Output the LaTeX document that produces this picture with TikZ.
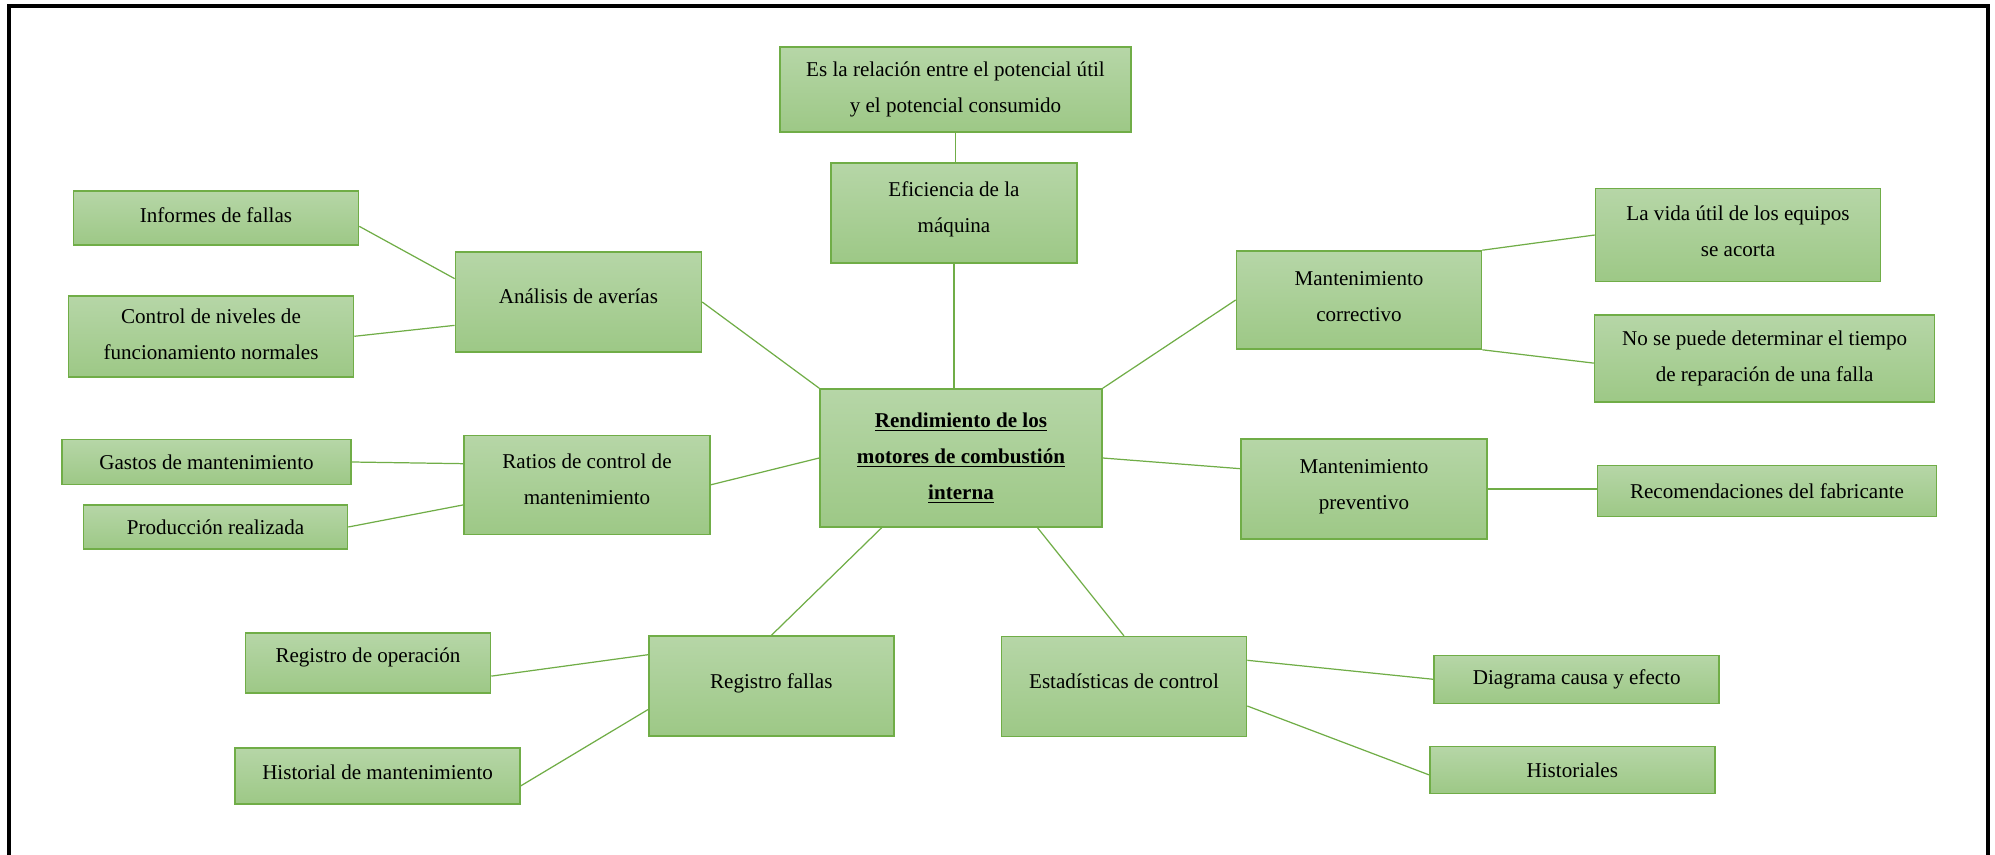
\documentclass[tikz,border=0pt]{standalone}
\usepackage{fontspec}
\setmainfont{Liberation Serif}
\usetikzlibrary{calc,positioning}
\definecolor{boxtop}{RGB}{182,214,167}
\definecolor{boxbot}{RGB}{157,200,134}
\definecolor{boxline}{RGB}{112,173,71}
% raise a line of text inside its box, keeping the box size
\newcommand\upln[2]{\raisebox{#1}[\height][\depth]{#2}}

\begin{document}
\begin{tikzpicture}[x=0.02cm,y=-0.02cm,
  box/.style={draw=boxline,line width=0.9pt,top color=boxtop,bottom color=boxbot,align=center,inner sep=1pt,font=\fontsize{12}{20.5}\selectfont},
  sz/.style 2 args={minimum width=#1*0.02cm,minimum height=#2*0.02cm},
  link/.style={draw=boxline,line width=0.7pt}]
\useasboundingbox (0,0) rectangle (1995,855);
\draw[line width=1.8pt] (9,860)--(9,6)--(1988,6)--(1988,860);
% centre and top branch
\node[box,sz={282}{138}] (c) at (961,458) {\underline{\textbf{Rendimiento de los}}\\\underline{\textbf{motores de combustión}}\\\underline{\textbf{interna}}};
\node[box,sz={351}{85}] (top) at (955.5,89.5) {Es la relación entre el potencial útil\\y el potencial consumido};
\node[box,sz={246}{100}] (efi) at (954,213) {\upln{2.3pt}{Eficiencia de la}\\\upln{2.3pt}{máquina}};
% left side
\node[box,sz={246}{100}] (ana) at (578.4,302) {\upln{3.5pt}{Análisis de averías}};
\node[box,sz={285}{54}] (inf) at (216,218) {\upln{1.4pt}{Informes de fallas}};
\node[box,sz={285}{81}] (ctl) at (211,336.3) {\upln{1pt}{Control de niveles de}\\\upln{1pt}{funcionamiento normales}};
\node[box,sz={246}{99}] (rat) at (587,484.8) {\upln{3.2pt}{Ratios de control de}\\\upln{3.2pt}{mantenimiento}};
\node[box,sz={289}{45}] (gas) at (206.5,462) {Gastos de mantenimiento};
\node[box,sz={264}{44}] (pro) at (215.5,527) {Producción realizada};
% bottom
\node[box,sz={245}{100}] (rf) at (771.3,686.2) {\upln{1.7pt}{Registro fallas}};
\node[box,sz={245}{60}] (rop) at (368,663.2) {\upln{3.5pt}{Registro de operación}};
\node[box,sz={285}{56}] (his) at (377.6,776) {\upln{2pt}{Historial de mantenimiento}};
\node[box,sz={245}{100}] (est) at (1124,686.7) {\upln{3pt}{Estadísticas de control}};
\node[box,sz={285}{48}] (dia) at (1576.7,679.3) {Diagrama causa y efecto};
\node[box,sz={285}{47}] (hst) at (1572.3,770) {Historiales};
% right side
\node[box,sz={245}{98}] (cor) at (1359,300) {\upln{2pt}{Mantenimiento}\\\upln{2pt}{correctivo}};
\node[box,sz={285}{93}] (vid) at (1738,235) {\upln{2pt}{La vida útil de los equipos}\\\upln{2pt}{se acorta}};
\node[box,sz={340}{87}] (nos) at (1764.6,358.7) {No se puede determinar el tiempo\\de reparación de una falla};
\node[box,sz={246}{100}] (prev) at (1364,489) {\upln{1.4pt}{Mantenimiento}\\\upln{1.4pt}{preventivo}};
\node[box,sz={339}{51}] (rec) at (1767,491) {Recomendaciones del fabricante};
% connectors
\draw[link] (top.south)--(top.south |- efi.north);
\draw[link] (efi.south)--(efi.south |- c.north);
\draw[link] (ana.east)--(c.north west);
\draw[link] (rat.east)--(c.west);
\draw[link] ($(c.south west)!0.22!(c.south east)$)--(rf.north);
\draw[link] ($(c.south west)!0.77!(c.south east)$)--(est.north);
\draw[link] (c.north east)--(cor.west);
\draw[link] (c.east)--($(prev.north west)!0.3!(prev.south west)$);
\draw[link] ($(inf.north east)!0.65!(inf.south east)$)--($(ana.north west)!0.27!(ana.south west)$);
\draw[link] (ctl.east)--($(ana.north west)!0.73!(ana.south west)$);
\draw[link] (gas.east)--($(rat.north west)!0.29!(rat.south west)$);
\draw[link] (pro.east)--($(rat.north west)!0.7!(rat.south west)$);
\draw[link] ($(rop.north east)!0.71!(rop.south east)$)--($(rf.north west)!0.19!(rf.south west)$);
\draw[link] ($(his.north east)!0.67!(his.south east)$)--($(rf.north west)!0.73!(rf.south west)$);
\draw[link] ($(est.north east)!0.24!(est.south east)$)--(dia.west);
\draw[link] ($(est.north east)!0.69!(est.south east)$)--($(hst.north west)!0.6!(hst.south west)$);
\draw[link] (cor.north east)--(vid.west);
\draw[link] (cor.south east)--($(nos.north west)!0.55!(nos.south west)$);
\draw[link] (prev.east)--(prev.east -| rec.west);
\end{tikzpicture}
\end{document}
